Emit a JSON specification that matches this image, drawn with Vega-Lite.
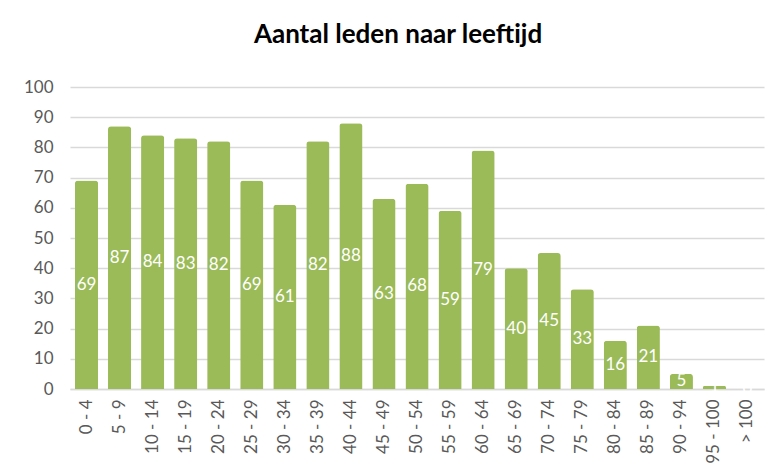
{
  "$schema": "https://vega.github.io/schema/vega-lite/v6.json",
  "autosize": "none",
  "width": 694,
  "height": 302,
  "padding": {"left": 70, "top": 87, "right": 12, "bottom": 83},
  "background": "white",
  "title": {
    "text": "Aantal leden naar leeftijd",
    "font": "Lato",
    "fontSize": 26,
    "fontWeight": "bold",
    "color": "#000000",
    "anchor": "middle",
    "frame": "group",
    "offset": 30,
    "dx": -19
  },
  "data": {
    "values": [
      {"leeftijd": "0 - 4", "aantal": 69},
      {"leeftijd": "5 - 9", "aantal": 87},
      {"leeftijd": "10 - 14", "aantal": 84},
      {"leeftijd": "15 - 19", "aantal": 83},
      {"leeftijd": "20 - 24", "aantal": 82},
      {"leeftijd": "25 - 29", "aantal": 69},
      {"leeftijd": "30 - 34", "aantal": 61},
      {"leeftijd": "35 - 39", "aantal": 82},
      {"leeftijd": "40 - 44", "aantal": 88},
      {"leeftijd": "45 - 49", "aantal": 63},
      {"leeftijd": "50 - 54", "aantal": 68},
      {"leeftijd": "55 - 59", "aantal": 59},
      {"leeftijd": "60 - 64", "aantal": 79},
      {"leeftijd": "65 - 69", "aantal": 40},
      {"leeftijd": "70 - 74", "aantal": 45},
      {"leeftijd": "75 - 79", "aantal": 33},
      {"leeftijd": "80 - 84", "aantal": 16},
      {"leeftijd": "85 - 89", "aantal": 21},
      {"leeftijd": "90 - 94", "aantal": 5},
      {"leeftijd": "95 - 100", "aantal": 1},
      {"leeftijd": "> 100", "aantal": 0}
    ]
  },
  "encoding": {
    "x": {
      "field": "leeftijd",
      "type": "nominal",
      "sort": null,
      "scale": {"paddingInner": 0.3, "paddingOuter": 0.15},
      "axis": {
        "title": null,
        "labelAngle": -90,
        "labelFont": "Lato",
        "labelFontSize": 17,
        "labelColor": "#595959",
        "labelPadding": 10,
        "ticks": false,
        "domainColor": "#d9d9d9",
        "domainWidth": 1.5
      }
    }
  },
  "layer": [
    {
      "mark": {
        "type": "bar",
        "color": "#9BBB59",
        "cornerRadiusTopLeft": 3,
        "cornerRadiusTopRight": 3
      },
      "encoding": {
        "y": {
          "field": "aantal",
          "type": "quantitative",
          "scale": {"domain": [0, 100]},
          "axis": {
            "title": null,
            "values": [0, 10, 20, 30, 40, 50, 60, 70, 80, 90, 100],
            "labelFont": "Lato",
            "labelFontSize": 17,
            "labelColor": "#595959",
            "labelPadding": 17,
            "ticks": false,
            "domain": false,
            "gridColor": "#d9d9d9",
            "gridWidth": 1.5
          }
        }
      }
    },
    {
      "mark": {
        "type": "text",
        "color": "white",
        "font": "Lato",
        "fontSize": 17,
        "baseline": "middle",
        "align": "center"
      },
      "encoding": {
        "y": {
          "field": "aantal",
          "type": "quantitative",
          "scale": {"domain": [0, 200]},
          "axis": null
        },
        "text": {"field": "aantal", "type": "quantitative"}
      }
    }
  ],
  "resolve": {"scale": {"y": "independent"}},
  "config": {"view": {"stroke": null}}
}
